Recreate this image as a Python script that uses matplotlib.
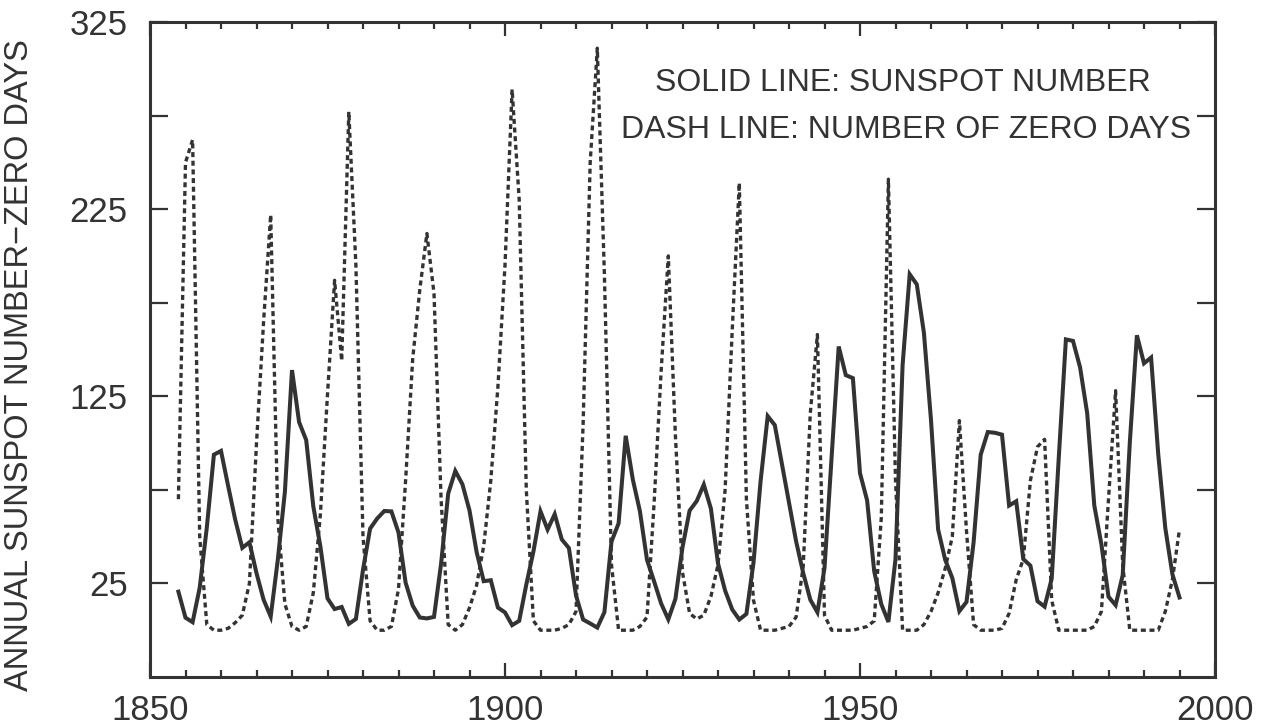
import numpy as np
import matplotlib
matplotlib.use("Agg")
import matplotlib.pyplot as plt
from matplotlib.ticker import MultipleLocator, FixedLocator

plt.rcParams['font.family'] = ['Liberation Sans', 'DejaVu Sans']

# annual sunspot number (solid line), 1854-1995
ssn_years = list(range(1854, 1996))
ssn = [20.6, 6.7, 4.3, 22.7, 54.8, 93.8, 95.8, 77.2, 59.1, 44.0,
       47.0, 30.5, 16.3, 7.3, 37.6, 74.0, 139.0, 111.2, 101.6, 66.2,
       44.7, 17.0, 11.3, 12.4, 3.4, 6.0, 32.3, 54.3, 59.7, 63.7,
       63.5, 52.2, 25.4, 13.1, 6.8, 6.3, 7.1, 35.6, 73.0, 85.1,
       78.0, 64.0, 41.8, 26.2, 26.7, 12.1, 9.5, 2.7, 5.0, 24.4,
       42.0, 63.5, 53.8, 62.0, 48.5, 43.9, 18.6, 5.7, 3.6, 1.4,
       9.6, 47.4, 57.1, 103.9, 80.6, 63.6, 37.6, 26.1, 14.2, 5.8,
       16.7, 44.3, 63.9, 69.0, 77.8, 65.0, 35.7, 21.2, 11.1, 5.7,
       8.7, 36.1, 79.7, 114.4, 109.6, 88.8, 67.8, 47.5, 30.6, 16.3,
       9.6, 33.2, 92.6, 151.6, 136.3, 134.7, 83.9, 69.4, 31.5, 13.9,
       4.4, 38.0, 141.7, 190.2, 184.8, 159.0, 112.3, 53.9, 37.6, 27.9,
       10.2, 15.1, 47.0, 93.8, 105.9, 105.5, 104.5, 66.6, 68.9, 38.0,
       34.5, 15.5, 12.6, 27.5, 92.5, 155.4, 154.6, 140.4, 115.9, 66.6,
       45.9, 17.9, 13.4, 29.4, 100.2, 157.6, 142.6, 145.7, 94.3, 54.6,
       29.9, 17.5]

# number of spotless (zero) days per year (dashed line), 1854-1995
zero_years = list(range(1854, 1996))
zero_days = [70, 250, 262, 50, 3, 0, 0, 1, 4, 8,
             25, 100, 165, 222, 60, 14, 2, 0, 2, 20,
             62, 126, 187, 144, 277, 195, 50, 5, 0, 0,
             2, 22, 80, 145, 182, 212, 180, 70, 3, 0,
             3, 12, 24, 45, 80, 130, 195, 289, 230, 75,
             5, 0, 0, 0, 1, 3, 10, 110, 250, 311,
             190, 35, 0, 0, 0, 2, 7, 68, 139, 200,
             104, 31, 9, 6, 8, 18, 35, 75, 160, 239,
             70, 16, 0, 0, 0, 1, 2, 7, 34, 116,
             158, 8, 0, 0, 0, 0, 1, 2, 5, 60,
             241, 80, 0, 0, 0, 3, 10, 20, 33, 50,
             112, 53, 3, 0, 0, 0, 1, 9, 27, 38,
             80, 98, 102, 16, 0, 0, 0, 0, 0, 2,
             10, 70, 128, 35, 0, 0, 0, 0, 0, 10,
             27, 54]

ink = '#333333'

fig = plt.figure(figsize=(12.71, 7.27), dpi=100)
ax = fig.add_axes([150/1271, 50/727, 1065/1271, 655/727])

ax.plot(ssn_years, ssn, color=ink, lw=2.9, solid_joinstyle='miter')
ax.plot(zero_years, zero_days, color=ink, lw=2.4, linestyle=(0, (1.5, 1.1)))

ax.set_xlim(1850, 2000)
ax.set_ylim(-25, 325)

ax.xaxis.set_major_locator(FixedLocator([1850, 1900, 1950, 2000]))
ax.xaxis.set_minor_locator(MultipleLocator(5))
ax.yaxis.set_major_locator(FixedLocator([25, 125, 225, 325]))
ax.yaxis.set_minor_locator(FixedLocator([75, 175, 275]))

ax.tick_params(axis='both', which='both', direction='in', colors=ink,
               width=1.6, labelsize=25, labelcolor=ink)
ax.tick_params(axis='x', which='major', length=10, pad=12, top=True)
ax.tick_params(axis='x', which='minor', length=5, top=True)
ax.tick_params(axis='y', which='both', length=13, right=True, pad=16)

for s in ax.spines.values():
    s.set_color(ink)
    s.set_linewidth(2.2)

fig.text(20/1271, 1 - 365/727, 'ANNUAL SUNSPOT NUMBER\u2212ZERO DAYS',
         rotation=90, ha='center', va='center', fontsize=23.5, color=ink)

ax.text(0.707, 0.907, 'SOLID LINE: SUNSPOT NUMBER', transform=ax.transAxes,
        ha='center', va='center', fontsize=23, color=ink)
ax.text(0.710, 0.835, 'DASH LINE: NUMBER OF ZERO DAYS', transform=ax.transAxes,
        ha='center', va='center', fontsize=23, color=ink)

fig.savefig('out.png', dpi=100)
